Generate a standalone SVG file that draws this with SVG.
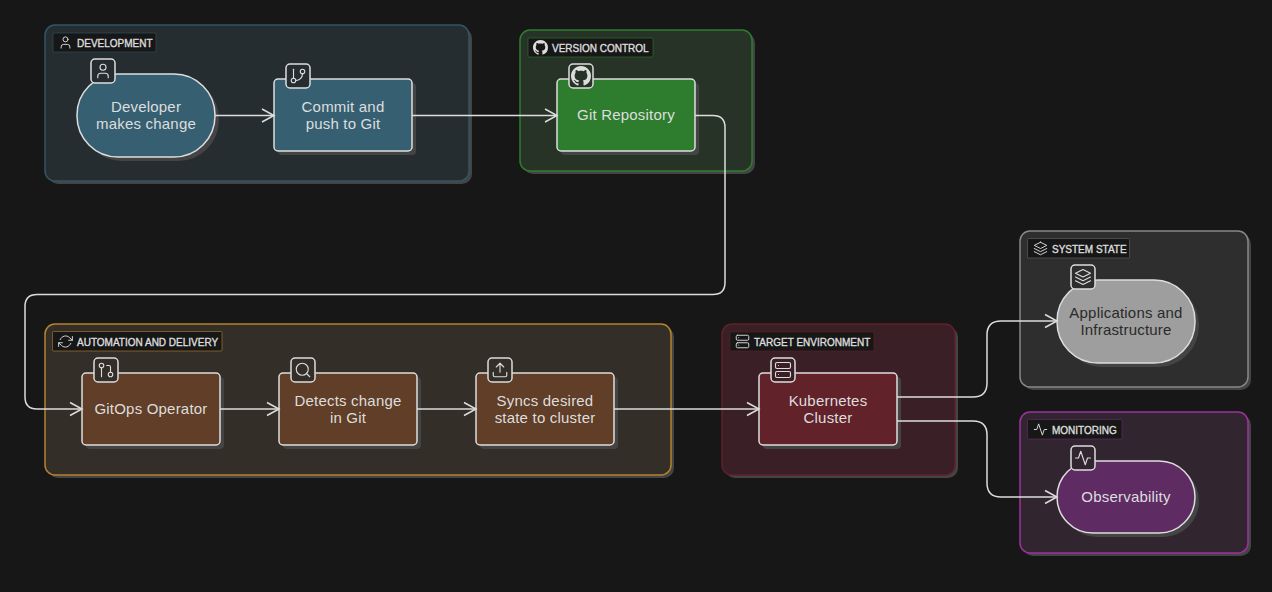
<svg xmlns="http://www.w3.org/2000/svg" width="1272" height="592" viewBox="0 0 1272 592">
<style>
text{font-family:"Liberation Sans",Arial,sans-serif;fill:#ddd;text-anchor:middle}
.t{font-size:15px;letter-spacing:.2px}
.l{font-size:10px;text-anchor:start;stroke:#ddd;stroke-width:.35px}
.sh{fill:#444}
.n{stroke:#ddd;stroke-width:1.5}
.b{stroke:#ddd;stroke-width:1.5}
.ic{fill:none;stroke:#ddd;stroke-width:1.5;stroke-linecap:round;stroke-linejoin:round}
.e{fill:none;stroke:#ddd;stroke-width:1.5;marker-end:url(#a)}
.c{stroke-width:1.5}
.lb{fill:#171717;stroke-width:.6}
</style>
<defs>
<marker id="a" markerUnits="userSpaceOnUse" markerWidth="16" markerHeight="16" refX="13" refY="8" orient="auto"><path d="M1 1.500 L13 8 L1 14.500" fill="none" stroke="#ddd" stroke-width="1.500"/></marker>
<symbol id="i-user" viewBox="0 0 24 24"><circle cx="12" cy="7" r="4"/><path d="M19 21v-2a4 4 0 0 0-4-4H9a4 4 0 0 0-4 4v2"/></symbol>
<symbol id="i-branch" viewBox="0 0 24 24"><line x1="6" y1="3" x2="6" y2="15"/><circle cx="18" cy="6" r="3"/><circle cx="6" cy="18" r="3"/><path d="M18 9a9 9 0 0 1-9 9"/></symbol>
<symbol id="i-pr" viewBox="0 0 24 24"><circle cx="6" cy="6" r="3"/><circle cx="18" cy="18" r="3"/><path d="M13 6h3a2 2 0 0 1 2 2v7"/><line x1="6" y1="9" x2="6" y2="21"/></symbol>
<symbol id="i-search" viewBox="0 0 24 24"><circle cx="11" cy="11" r="8"/><line x1="21" y1="21" x2="16.65" y2="16.65"/></symbol>
<symbol id="i-upload" viewBox="0 0 24 24"><path d="M21 15v4a2 2 0 0 1-2 2H5a2 2 0 0 1-2-2v-4"/><polyline points="17 8 12 3 7 8"/><line x1="12" y1="3" x2="12" y2="15"/></symbol>
<symbol id="i-server" viewBox="0 0 24 24"><rect x="2" y="2" width="20" height="8" rx="2"/><rect x="2" y="14" width="20" height="8" rx="2"/><line x1="6" y1="6" x2="6.01" y2="6"/><line x1="6" y1="18" x2="6.01" y2="18"/></symbol>
<symbol id="i-layers" viewBox="0 0 24 24"><polygon points="12 2 2 7 12 12 22 7 12 2"/><polyline points="2 17 12 22 22 17"/><polyline points="2 12 12 17 22 12"/></symbol>
<symbol id="i-activity" viewBox="0 0 24 24"><polyline points="22 12 18 12 15 21 9 3 6 12 2 12"/></symbol>
<symbol id="i-refresh" viewBox="0 0 24 24"><path d="M23 4v6h-6"/><path d="M1 20v-6h6"/><path d="M3.51 9a9 9 0 0 1 14.85-3.36L23 10M1 14l4.64 4.36A9 9 0 0 0 20.49 15"/></symbol>
<symbol id="i-github" viewBox="0 0 16 16"><path stroke="none" fill="#ddd" d="M8 0C3.58 0 0 3.58 0 8c0 3.54 2.29 6.53 5.47 7.59.4.07.55-.17.55-.38 0-.19-.01-.82-.01-1.49-2.01.37-2.53-.49-2.69-.94-.09-.23-.48-.94-.82-1.13-.28-.15-.68-.52-.01-.53.63-.01 1.08.58 1.23.82.72 1.21 1.87.87 2.33.66.07-.52.28-.87.51-1.07-1.78-.2-3.64-.89-3.64-3.95 0-.87.31-1.59.82-2.15-.08-.2-.36-1.02.08-2.12 0 0 .67-.21 2.2.82.64-.18 1.32-.27 2-.27.68 0 1.36.09 2 .27 1.53-1.04 2.2-.82 2.2-.82.44 1.1.16 1.92.08 2.12.51.56.82 1.27.82 2.15 0 3.07-1.87 3.75-3.65 3.95.29.25.54.73.54 1.48 0 1.07-.01 1.93-.01 2.2 0 .21.15.46.55.38A8.013 8.013 0 0016 8c0-4.42-3.58-8-8-8z"/></symbol>
</defs>
<rect width="1272" height="592" fill="#171717"/>

<g id="cluster-development">
<rect class="sh" x="48" y="28" width="424" height="156" rx="10"/>
<rect class="c" x="45" y="25" width="424" height="156" rx="10" fill="#262d30" stroke="#2f5566"/>
<rect class="lb" x="53" y="33" width="103" height="19" rx="1" stroke="#2f5566"/>
<use href="#i-user" class="ic" x="58" y="35" width="15" height="15"/>
<text class="l" x="77" y="46.500">DEVELOPMENT</text>
</g>
<g id="cluster-version-control">
<rect class="sh" x="523" y="33" width="232" height="141" rx="10"/>
<rect class="c" x="520" y="30" width="232" height="141" rx="10" fill="#263326" stroke="#2e7d2e"/>
<rect class="lb" x="528" y="38" width="125" height="19" rx="1" stroke="#2e7d2e"/>
<use href="#i-github" x="533" y="40" width="15" height="15"/>
<text class="l" x="552" y="51.500">VERSION CONTROL</text>
</g>
<g id="cluster-automation">
<rect class="sh" x="48" y="327" width="626" height="151" rx="10"/>
<rect class="c" x="45" y="324" width="626" height="151" rx="10" fill="#332e27" stroke="#b5832e"/>
<rect class="lb" x="52.500" y="331.500" width="169.500" height="19.500" rx="1" stroke="#b5832e"/>
<use href="#i-refresh" class="ic" x="58" y="334" width="15" height="15"/>
<text class="l" x="77" y="345.500">AUTOMATION AND DELIVERY</text>
</g>
<g id="cluster-target">
<rect class="sh" x="725" y="327" width="233" height="151" rx="10"/>
<rect class="c" x="722" y="324" width="233" height="151" rx="10" fill="#3a2026" stroke="#5f2028"/>
<rect class="lb" x="730" y="332" width="144" height="19" rx="1" stroke="#5f2028"/>
<use href="#i-server" class="ic" x="735" y="334" width="15" height="15"/>
<text class="l" x="754" y="345.500">TARGET ENVIRONMENT</text>
</g>
<g id="cluster-system-state">
<rect class="sh" x="1023" y="234" width="228" height="156" rx="10"/>
<rect class="c" x="1020" y="231" width="228" height="156" rx="10" fill="#2e2e2e" stroke="#888"/>
<rect class="lb" x="1027.500" y="238.500" width="102" height="19.500" rx="1" stroke="#666"/>
<use href="#i-layers" class="ic" x="1033" y="241" width="15" height="15"/>
<text class="l" x="1052" y="252.500">SYSTEM STATE</text>
</g>
<g id="cluster-monitoring">
<rect class="sh" x="1023" y="415" width="228" height="141" rx="10"/>
<rect class="c" x="1020" y="412" width="228" height="141" rx="10" fill="#312530" stroke="#a030a0"/>
<rect class="lb" x="1027.500" y="419.500" width="94.500" height="19.500" rx="1" stroke="#6e2a70"/>
<use href="#i-activity" class="ic" x="1033" y="422" width="15" height="15"/>
<text class="l" x="1052" y="433.500">MONITORING</text>
</g>

<g id="node-developer">
<rect class="sh" x="81" y="78" width="138" height="83" rx="41"/>
<rect class="n" x="77" y="74" width="138" height="83" rx="41" fill="#366072"/>
<rect class="b" x="91" y="59" width="24" height="24" rx="4" fill="#262d30"/>
<use href="#i-user" class="ic" x="94" y="62" width="18" height="18"/>
<text class="t" x="146" y="112">Developer</text>
<text class="t" x="146" y="129">makes change</text>
</g>
<g id="node-commit">
<rect class="sh" x="278" y="83" width="138" height="72" rx="4"/>
<rect class="n" x="274" y="79" width="138" height="72" rx="4" fill="#366072"/>
<rect class="b" x="286" y="64" width="24" height="24" rx="4" fill="#262d30"/>
<use href="#i-branch" class="ic" x="289" y="67" width="18" height="18"/>
<text class="t" x="343" y="112">Commit and</text>
<text class="t" x="343" y="129">push to Git</text>
</g>
<g id="node-git-repository">
<rect class="sh" x="561" y="83" width="138" height="72" rx="4"/>
<rect class="n" x="557" y="79" width="138" height="72" rx="4" fill="#2e7d2e"/>
<rect class="b" x="569" y="64" width="24" height="24" rx="4" fill="#263326"/>
<use href="#i-github" x="571" y="66" width="20" height="20"/>
<text class="t" x="626" y="120">Git Repository</text>
</g>
<g id="node-gitops-operator">
<rect class="sh" x="86" y="377" width="138" height="72" rx="4"/>
<rect class="n" x="82" y="373" width="138" height="72" rx="4" fill="#603e27"/>
<rect class="b" x="94" y="358" width="24" height="24" rx="4" fill="#332e27"/>
<use href="#i-pr" class="ic" x="97" y="361" width="18" height="18"/>
<text class="t" x="151" y="413.500">GitOps Operator</text>
</g>
<g id="node-detects">
<rect class="sh" x="283" y="377" width="138" height="72" rx="4"/>
<rect class="n" x="279" y="373" width="138" height="72" rx="4" fill="#603e27"/>
<rect class="b" x="291" y="358" width="24" height="24" rx="4" fill="#332e27"/>
<use href="#i-search" class="ic" x="294" y="361" width="18" height="18"/>
<text class="t" x="348" y="405.500">Detects change</text>
<text class="t" x="348" y="422.500">in Git</text>
</g>
<g id="node-syncs">
<rect class="sh" x="480" y="377" width="138" height="72" rx="4"/>
<rect class="n" x="476" y="373" width="138" height="72" rx="4" fill="#603e27"/>
<rect class="b" x="488" y="358" width="24" height="24" rx="4" fill="#332e27"/>
<use href="#i-upload" class="ic" x="491" y="361" width="18" height="18"/>
<text class="t" x="545" y="405.500">Syncs desired</text>
<text class="t" x="545" y="422.500">state to cluster</text>
</g>
<g id="node-kubernetes">
<rect class="sh" x="763" y="377" width="138" height="72" rx="4"/>
<rect class="n" x="759" y="373" width="138" height="72" rx="4" fill="#62222a"/>
<rect class="b" x="771" y="358" width="24" height="24" rx="4" fill="#3a2026"/>
<use href="#i-server" class="ic" x="774" y="361" width="18" height="18"/>
<text class="t" x="828" y="405.500">Kubernetes</text>
<text class="t" x="828" y="422.500">Cluster</text>
</g>
<g id="node-applications">
<rect class="sh" x="1061" y="284" width="138" height="83" rx="41"/>
<rect class="n" x="1057" y="280" width="138" height="83" rx="41" fill="#9e9e9e"/>
<rect class="b" x="1071" y="265" width="24" height="24" rx="4" fill="#2e2e2e"/>
<use href="#i-layers" class="ic" x="1074" y="268" width="18" height="18"/>
<text class="t" x="1126" y="318" style="fill:#2a2a2a">Applications and</text>
<text class="t" x="1126" y="335" style="fill:#2a2a2a">Infrastructure</text>
</g>
<g id="node-observability">
<rect class="sh" x="1061" y="465" width="138" height="72" rx="36"/>
<rect class="n" x="1057" y="461" width="138" height="72" rx="36" fill="#5e2c63"/>
<rect class="b" x="1071" y="446" width="24" height="24" rx="4" fill="#312530"/>
<use href="#i-activity" class="ic" x="1074" y="449" width="18" height="18"/>
<text class="t" x="1126" y="501.500">Observability</text>
</g>

<g id="connectors">
<path class="e" d="M215 115.500H274"/>
<path class="e" d="M412 115.500H557"/>
<path class="e" d="M695 115.500H713Q725 115.500 725 127.500V282.500Q725 294.500 713 294.500H37Q25 294.500 25 306.500V397Q25 409 37 409H82"/>
<path class="e" d="M220 409H279"/>
<path class="e" d="M417 409H476"/>
<path class="e" d="M614 409H759"/>
<path class="e" d="M897 397H973Q987 397 987 383V335Q987 321 1001 321H1057"/>
<path class="e" d="M897 421H973Q987 421 987 435V483Q987 497 1001 497H1057"/>
</g>
</svg>
